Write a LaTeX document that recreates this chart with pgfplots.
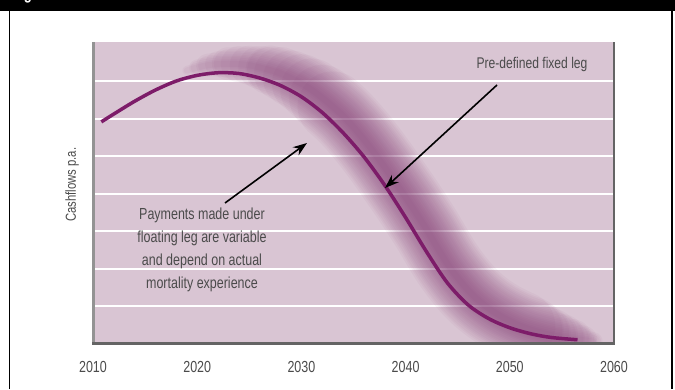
\documentclass[border=0pt]{standalone}
\usepackage{fontspec}
\setmainfont{Liberation Sans}[FakeStretch=0.78]
\usepackage{pgfplots}
\pgfplotsset{compat=1.18}
\usepackage{pgfplotstable}
\usetikzlibrary{arrows.meta}
\definecolor{bgpink}{RGB}{217,197,211}
\definecolor{curvec}{RGB}{125,28,105}
\definecolor{bandc}{RGB}{125,45,108}
\definecolor{txtgray}{RGB}{75,75,75}
\definecolor{axgray}{RGB}{100,100,100}

\pgfplotstableread{
x y
2010.8 5.91
2012 6.12
2014 6.46
2016 6.76
2018 7.00
2020 7.15
2022 7.22
2024 7.20
2026 7.08
2028 6.88
2030 6.58
2032 6.16
2034 5.62
2036 4.98
2038 4.22
2040 3.36
2042 2.45
2044 1.62
2046 1.03
2048 0.66
2050 0.42
2052 0.26
2054 0.16
2056.5 0.10
}\curvetable

\pgfplotstableread{
x y
2019 7.28
2020 7.36
2021 7.42
2022 7.45
2023 7.46
2024 7.45
2025 7.42
2026 7.36
2027 7.29
2028 7.20
2029 7.07
2030 6.93
2031 6.76
2032 6.55
2033 6.32
2034 6.07
2035 5.77
2036 5.44
2037 5.08
2038 4.70
2039 4.30
2040 3.90
2041 3.48
2042 3.05
2043 2.58
2044 2.13
2045 1.75
2046 1.42
2047 1.15
2048 0.93
2049 0.75
2050 0.60
2051 0.47
2052 0.37
2053 0.29
2054 0.22
2055 0.17
2056 0.13
2057 0.09
2058 0.05
}\bandtable

\pgfplotsset{bandlayer/.style n args={3}{draw=bandc, line width=#1pt, opacity=0.045, line cap=round, line join=round, smooth, restrict x to domain=#2:#3}}

\begin{document}
\begin{tikzpicture}
\begin{scope}[x=1pt,y=1pt]
\useasboundingbox (0,0) rectangle (675,389);
\fill[white] (0,0) rectangle (675,389);
\fill[black] (0,378) rectangle (675,389);
\node[anchor=base west, text=white, font=\bfseries\fontsize{17}{17}\selectfont, inner sep=0] at (12,389.5) {Figure 4};
\draw[black, line width=1.5] (9.5,0) -- (9.5,378);
\draw[black, line width=1.5] (672,0) -- (672,378);
\end{scope}
\begin{axis}[
  at={(93pt,45.5pt)}, anchor=south west, scale only axis,
  width=521pt, height=301.5pt,
  xmin=2010, xmax=2060, ymin=0, ymax=8.04,
  axis background/.style={fill=bgpink},
  axis line style={draw=none},
  xtick={2010,2020,...,2060},
  ytick={1,...,7}, yticklabels={},
  ymajorgrids, major grid style={white, line width=2pt},
  tick style={draw=none},
  /pgf/number format/assume math mode=true,
  /pgf/number format/1000 sep={},
  xticklabel style={text=txtgray, font=\fontsize{16}{16}\selectfont, yshift=-14pt},
  ylabel={Cashflows p.a.},
  ylabel style={at={(rel axis cs:-0.04,0.526)}, anchor=center, text=txtgray, font=\fontsize{14.5}{14.5}\selectfont},
]
\addplot[bandlayer={6}{2019}{2058}] table {\bandtable};
\addplot[bandlayer={9}{2019}{2058}] table {\bandtable};
\addplot[bandlayer={13}{2020}{2058}] table {\bandtable};
\addplot[bandlayer={16}{2020}{2058}] table {\bandtable};
\addplot[bandlayer={19}{2021}{2058}] table {\bandtable};
\addplot[bandlayer={23}{2021}{2057}] table {\bandtable};
\addplot[bandlayer={26}{2022}{2057}] table {\bandtable};
\addplot[bandlayer={29}{2023}{2057}] table {\bandtable};
\addplot[bandlayer={33}{2023}{2056}] table {\bandtable};
\addplot[bandlayer={36}{2024}{2056}] table {\bandtable};
\addplot[bandlayer={39}{2025}{2056}] table {\bandtable};
\addplot[bandlayer={43}{2026}{2055}] table {\bandtable};
\addplot[bandlayer={46}{2027}{2055}] table {\bandtable};
\addplot[bandlayer={49}{2027}{2054}] table {\bandtable};
\addplot[bandlayer={53}{2028}{2054}] table {\bandtable};
\addplot[bandlayer={56}{2029}{2053}] table {\bandtable};
\addplot[bandlayer={59}{2030}{2053}] table {\bandtable};
\addplot[bandlayer={63}{2031}{2052}] table {\bandtable};
\addplot[bandlayer={66}{2032}{2052}] table {\bandtable};
\addplot[bandlayer={70}{2033}{2051}] table {\bandtable};
\addplot[curvec, line width=3.5pt, smooth] table {\curvetable};
\end{axis}
\begin{scope}[x=1pt,y=1pt]
\draw[-{Stealth[length=14pt,width=10pt]}, line width=1.6pt] (225,186) -- (307,246);
\draw[-{Stealth[length=14pt,width=10pt]}, line width=1.6pt] (497,304) -- (385,201);
\draw[axgray!70, line width=3] (93,45.5) -- (93,347);
\draw[axgray, line width=2.5] (92,45.5) -- (615,45.5);
\draw[axgray, line width=2.5] (614,45.5) -- (614,347);
\node[align=center, text=txtgray, font=\fontsize{16}{23}\selectfont] at (202,139) {Payments made under\\floating leg are variable\\and depend on actual\\mortality experience};
\node[text=txtgray, font=\fontsize{15.5}{15.5}\selectfont] at (532,325) {Pre-defined fixed leg};
\end{scope}
\end{tikzpicture}
\end{document}
